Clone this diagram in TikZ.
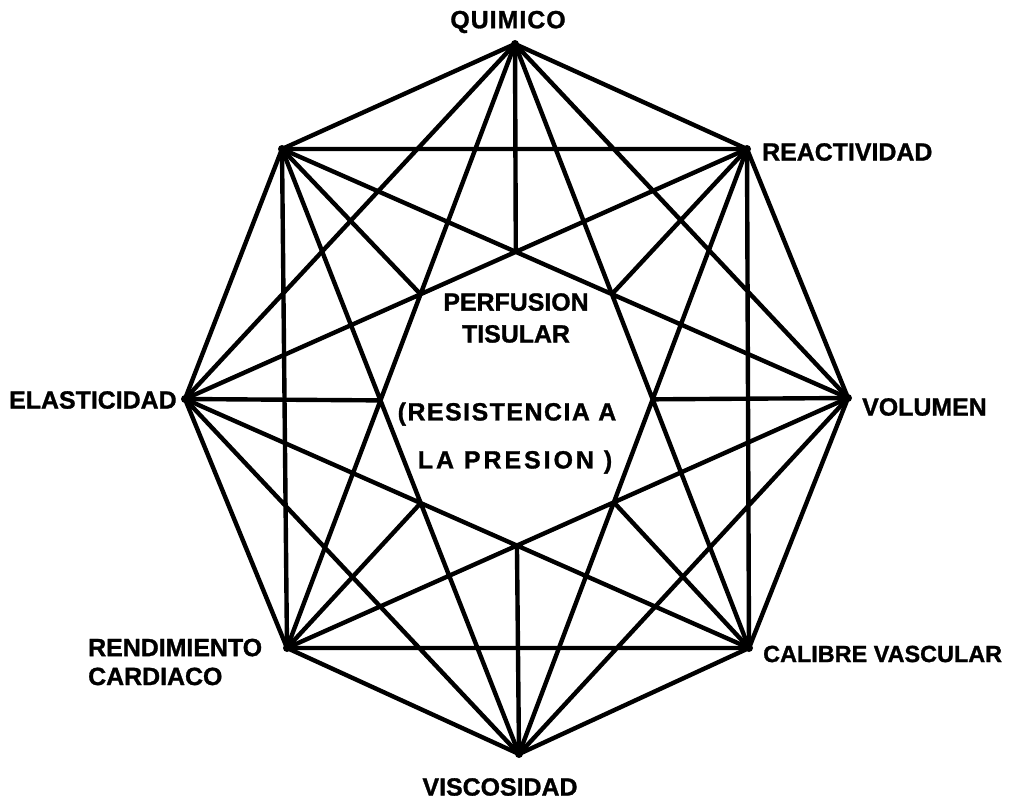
\documentclass[tikz,border=0pt]{standalone}
\usepackage{fontspec}
\setmainfont{Liberation Sans}[BoldFeatures={FakeBold=1.2}]
\begin{document}
\begin{tikzpicture}[x=1bp,y=-1bp,
  edge/.style={line width=4.4bp,line cap=round,line join=round},
  lbl/.style={font=\fontsize{25}{29}\selectfont\bfseries,inner sep=0pt},
  mid/.style={font=\fontsize{25}{29}\selectfont\bfseries,inner sep=0pt,align=center}]
\useasboundingbox (0,0) rectangle (1015,802);
% vertices
\coordinate (v0) at (515,44);
\coordinate (v1) at (747,149);
\coordinate (v2) at (848,398);
\coordinate (v3) at (749,648);
\coordinate (v4) at (519,754);
\coordinate (v5) at (287,648);
\coordinate (v6) at (185,399);
\coordinate (v7) at (282,149);
% inner ends of the diameters
\coordinate (x0) at (intersection of v7--v2 and v1--v6);
\coordinate (x1) at (intersection of v0--v3 and v2--v7);
\coordinate (x2) at (intersection of v1--v4 and v3--v0);
\coordinate (x3) at (intersection of v2--v5 and v4--v1);
\coordinate (x4) at (intersection of v3--v6 and v5--v2);
\coordinate (x5) at (intersection of v4--v7 and v6--v3);
\coordinate (x6) at (intersection of v5--v0 and v7--v4);
\coordinate (x7) at (intersection of v6--v1 and v0--v5);
% octagon
\draw[edge] (v0)--(v1) (v1)--(v2) (v2)--(v3) (v3)--(v4) (v4)--(v5) (v5)--(v6) (v6)--(v7) (v7)--(v0);
% step 2
\draw[edge] (v0)--(v2) (v1)--(v3) (v2)--(v4) (v3)--(v5) (v4)--(v6) (v5)--(v7) (v6)--(v0) (v7)--(v1);
% step 3
\draw[edge] (v0)--(v3) (v1)--(v4) (v2)--(v5) (v3)--(v6) (v4)--(v7) (v5)--(v0) (v6)--(v1) (v7)--(v2);
% truncated diameters
\draw[edge] (v0)--(x0) (v1)--(x1) (v2)--(x2) (v3)--(x3) (v4)--(x4) (v5)--(x5) (v6)--(x6) (v7)--(x7);
% vertex dots
\foreach \i in {0,...,7} \fill (v\i) circle (4bp);
% labels
\node[lbl] (lq) at (508,22) {\addfontfeature{LetterSpace=4}QUIMICO};
\node[lbl,anchor=west] (lr) at (762,152) {REACTIVIDAD};
\node[lbl,anchor=west] (lv) at (862,407) {VOLUMEN};
\node[lbl,anchor=west] (le) at (9,400) {ELASTICIDAD};
\node[lbl,anchor=west,align=left] (ld) at (88,662) {RENDIMIENTO\\CARDIACO};
\node[lbl,anchor=west,font=\fontsize{23.5}{28}\selectfont\bfseries] (lc) at (763,654) {CALIBRE VASCULAR};
\node[lbl] (ls) at (500,787) {VISCOSIDAD};
\node[mid] (lp) at (516,318) {PERFUSION\\[3bp]TISULAR};
\node[mid] (lres) at (507,414) {\addfontfeature{LetterSpace=6}(RESISTENCIA A};
\node[mid] (lpres) at (515,462) {\addfontfeature{LetterSpace=12}LA PRESION )};
\end{tikzpicture}
\end{document}
